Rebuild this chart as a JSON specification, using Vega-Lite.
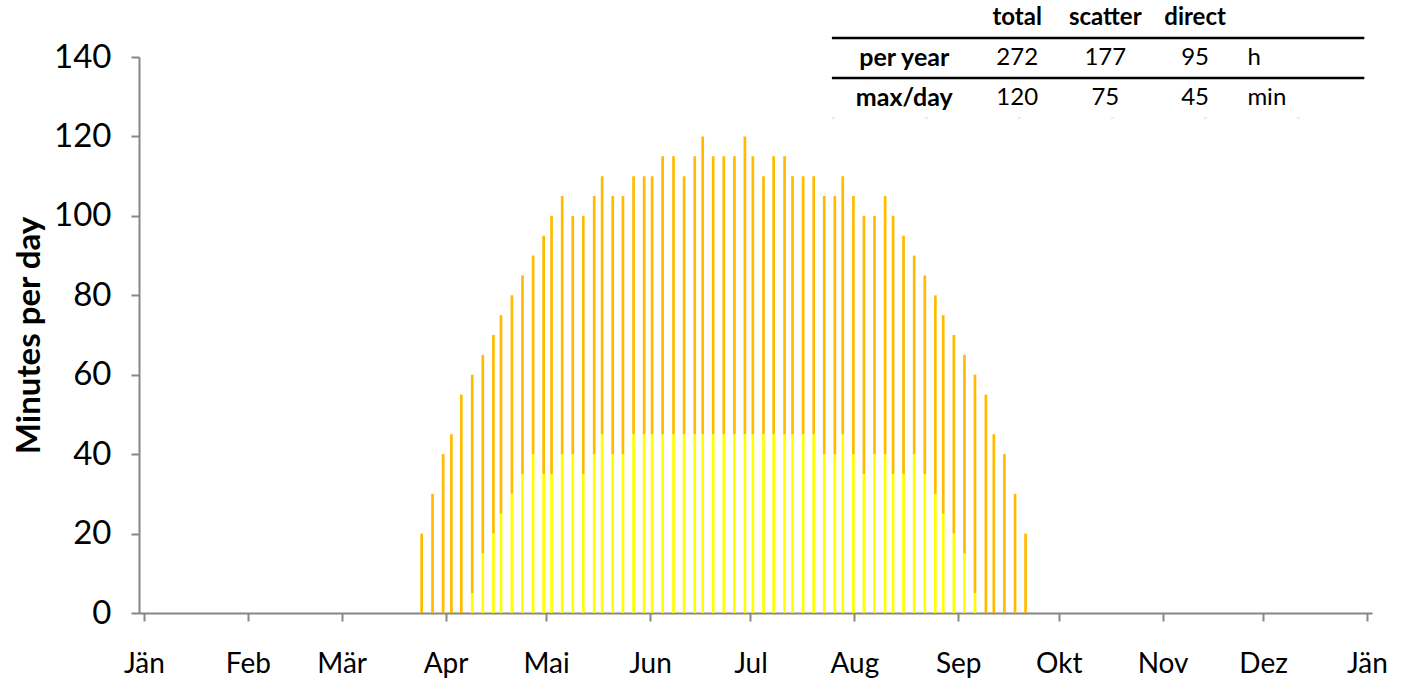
{
  "$schema": "https://vega.github.io/schema/vega-lite/v6.json",
  "width": 1233,
  "height": 556,
  "autosize": {"type": "none"},
  "padding": {"left": 139, "top": 57, "right": 32, "bottom": 68},
  "background": "white",
  "config": {"view": {"stroke": null}, "font": "Lato", "text": {"font": "Lato"}},
  "datasets": {
    "sun": [
      {"day": 82.87, "total": 20, "direct": 0},
      {"day": 86.12, "total": 30, "direct": 0},
      {"day": 89.29, "total": 40, "direct": 0},
      {"day": 91.74, "total": 45, "direct": 0},
      {"day": 94.70, "total": 55, "direct": 0},
      {"day": 97.96, "total": 60, "direct": 5},
      {"day": 101.12, "total": 65, "direct": 15},
      {"day": 104.29, "total": 70, "direct": 20},
      {"day": 106.54, "total": 75, "direct": 25},
      {"day": 109.80, "total": 80, "direct": 30},
      {"day": 112.96, "total": 85, "direct": 35},
      {"day": 116.13, "total": 90, "direct": 40},
      {"day": 119.27, "total": 95, "direct": 35},
      {"day": 121.63, "total": 100, "direct": 35},
      {"day": 124.80, "total": 105, "direct": 40},
      {"day": 127.97, "total": 100, "direct": 40},
      {"day": 131.10, "total": 100, "direct": 35},
      {"day": 134.36, "total": 105, "direct": 40},
      {"day": 136.73, "total": 110, "direct": 45},
      {"day": 139.89, "total": 105, "direct": 40},
      {"day": 142.94, "total": 105, "direct": 40},
      {"day": 146.11, "total": 110, "direct": 45},
      {"day": 149.27, "total": 110, "direct": 45},
      {"day": 151.64, "total": 110, "direct": 45},
      {"day": 154.78, "total": 115, "direct": 45},
      {"day": 158.03, "total": 115, "direct": 45},
      {"day": 161.20, "total": 110, "direct": 45},
      {"day": 164.37, "total": 115, "direct": 45},
      {"day": 166.74, "total": 120, "direct": 45},
      {"day": 169.87, "total": 115, "direct": 45},
      {"day": 173.04, "total": 115, "direct": 45},
      {"day": 176.21, "total": 115, "direct": 45},
      {"day": 179.34, "total": 120, "direct": 45},
      {"day": 181.71, "total": 115, "direct": 45},
      {"day": 184.88, "total": 110, "direct": 45},
      {"day": 187.92, "total": 115, "direct": 45},
      {"day": 191.18, "total": 115, "direct": 45},
      {"day": 193.55, "total": 110, "direct": 45},
      {"day": 196.72, "total": 110, "direct": 45},
      {"day": 199.88, "total": 110, "direct": 45},
      {"day": 203.02, "total": 105, "direct": 40},
      {"day": 206.18, "total": 105, "direct": 40},
      {"day": 208.55, "total": 110, "direct": 45},
      {"day": 211.72, "total": 105, "direct": 40},
      {"day": 214.86, "total": 100, "direct": 35},
      {"day": 218.02, "total": 100, "direct": 40},
      {"day": 221.19, "total": 105, "direct": 40},
      {"day": 223.56, "total": 100, "direct": 35},
      {"day": 226.69, "total": 95, "direct": 35},
      {"day": 229.86, "total": 90, "direct": 40},
      {"day": 233.03, "total": 85, "direct": 35},
      {"day": 236.17, "total": 80, "direct": 30},
      {"day": 238.53, "total": 75, "direct": 25},
      {"day": 241.70, "total": 70, "direct": 20},
      {"day": 244.87, "total": 65, "direct": 15},
      {"day": 248.00, "total": 60, "direct": 5},
      {"day": 251.26, "total": 55, "direct": 0},
      {"day": 253.63, "total": 45, "direct": 0},
      {"day": 256.79, "total": 40, "direct": 0},
      {"day": 259.96, "total": 30, "direct": 0},
      {"day": 263.10, "total": 20, "direct": 0}
    ],
    "table": [
      {"row": "head", "col": "total", "text": "total"},
      {"row": "head", "col": "scatter", "text": "scatter"},
      {"row": "head", "col": "direct", "text": "direct"},
      {"row": "per year", "col": "label", "text": "per year"},
      {"row": "per year", "col": "total", "text": "272"},
      {"row": "per year", "col": "scatter", "text": "177"},
      {"row": "per year", "col": "direct", "text": "95"},
      {"row": "per year", "col": "unit", "text": "h"},
      {"row": "max/day", "col": "label", "text": "max/day"},
      {"row": "max/day", "col": "total", "text": "120"},
      {"row": "max/day", "col": "scatter", "text": "75"},
      {"row": "max/day", "col": "direct", "text": "45"},
      {"row": "max/day", "col": "unit", "text": "min"}
    ]
  },
  "layer": [
    {
      "data": {"name": "sun"},
      "encoding": {
        "x": {
          "field": "day",
          "type": "quantitative",
          "scale": {"domain": [0, 365], "nice": false, "zero": false},
          "axis": {
            "values": [0, 31, 59, 90, 120, 151, 181, 212, 243, 273, 304, 334, 365],
            "labelExpr": "['Jän','Feb','Mär','Apr','Mai','Jun','Jul','Aug','Sep','Okt','Nov','Dez','Jän'][indexof([0,31,59,90,120,151,181,212,243,273,304,334,365], datum.value)]",
            "title": null,
            "grid": false,
            "domainColor": "#868686",
            "domainWidth": 2,
            "tickColor": "#868686",
            "tickWidth": 2,
            "tickSize": 8,
            "labelFontSize": 28,
            "labelColor": "#000000",
            "labelPadding": 29,
            "labelFlush": false,
            "labelOverlap": false
          }
        }
      },
      "layer": [
        {
          "mark": {"type": "bar", "color": "#FFFF00", "size": 2.7},
          "encoding": {
            "y": {
              "field": "direct",
              "type": "quantitative",
              "scale": {"domain": [0, 140], "nice": false},
              "axis": {
                "values": [0, 20, 40, 60, 80, 100, 120, 140],
                "title": "Minutes per day",
                "titleFontSize": 33,
                "titleFontWeight": "bold",
                "titleColor": "#000000",
                "titlePadding": 7,
                "grid": false,
                "domainColor": "#868686",
                "domainWidth": 2,
                "tickColor": "#868686",
                "tickWidth": 2,
                "tickSize": 8,
                "labelFontSize": 33,
                "labelColor": "#000000",
                "labelPadding": 20,
                "labelFlush": false,
                "labelOverlap": false
              }
            }
          }
        },
        {
          "mark": {"type": "bar", "color": "#FFBB00", "size": 2.7},
          "encoding": {
            "y": {"field": "total", "type": "quantitative"},
            "y2": {"field": "direct"}
          }
        }
      ]
    },
    {
      "data": {"name": "table"},
      "encoding": {
        "y": {
          "field": "row",
          "type": "ordinal",
          "scale": {"type": "band", "domain": ["head", "per year", "max/day"], "range": [-59, 61], "paddingInner": 0, "paddingOuter": 0},
          "axis": null
        }
      },
      "layer": [
        {
          "transform": [{"filter": "datum.col == 'label'"}],
          "mark": {"type": "rule", "color": "#000000", "strokeWidth": 2.5},
          "encoding": {
            "y": {"field": "row", "type": "ordinal", "bandPosition": 0},
            "x": {"datum": 205.3},
            "x2": {"datum": 364.2}
          }
        },
        {
          "transform": [{"filter": "datum.col == 'label' && datum.row == 'max/day'"}],
          "mark": {"type": "rule", "color": "#D9D9D9", "strokeWidth": 1, "strokeDash": [3, 90]},
          "encoding": {
            "y": {"field": "row", "type": "ordinal", "bandPosition": 1},
            "x": {"datum": 205.3},
            "x2": {"datum": 364.2}
          }
        },
        {
          "transform": [{"filter": "datum.col == 'label'"}],
          "mark": {"type": "text", "fontSize": 25, "fontWeight": "bold", "color": "#000000", "align": "center", "baseline": "middle"},
          "encoding": {"x": {"datum": 226.9}, "text": {"field": "text"}}
        },
        {
          "transform": [{"filter": "datum.col == 'total'"}],
          "mark": {"type": "text", "fontSize": 24, "fontWeight": {"expr": "datum.row == 'head' ? 'bold' : 'normal'"}, "color": "#000000", "align": "center", "baseline": "middle"},
          "encoding": {"x": {"datum": 260.6}, "text": {"field": "text"}}
        },
        {
          "transform": [{"filter": "datum.col == 'scatter'"}],
          "mark": {"type": "text", "fontSize": 24, "fontWeight": {"expr": "datum.row == 'head' ? 'bold' : 'normal'"}, "color": "#000000", "align": "center", "baseline": "middle"},
          "encoding": {"x": {"datum": 286.9}, "text": {"field": "text"}}
        },
        {
          "transform": [{"filter": "datum.col == 'direct'"}],
          "mark": {"type": "text", "fontSize": 24, "fontWeight": {"expr": "datum.row == 'head' ? 'bold' : 'normal'"}, "color": "#000000", "align": "center", "baseline": "middle"},
          "encoding": {"x": {"datum": 313.7}, "text": {"field": "text"}}
        },
        {
          "transform": [{"filter": "datum.col == 'unit'"}],
          "mark": {"type": "text", "fontSize": 24, "color": "#000000", "align": "left", "baseline": "middle"},
          "encoding": {"x": {"datum": 329.3}, "text": {"field": "text"}}
        }
      ]
    }
  ],
  "resolve": {"scale": {"y": "independent"}}
}
